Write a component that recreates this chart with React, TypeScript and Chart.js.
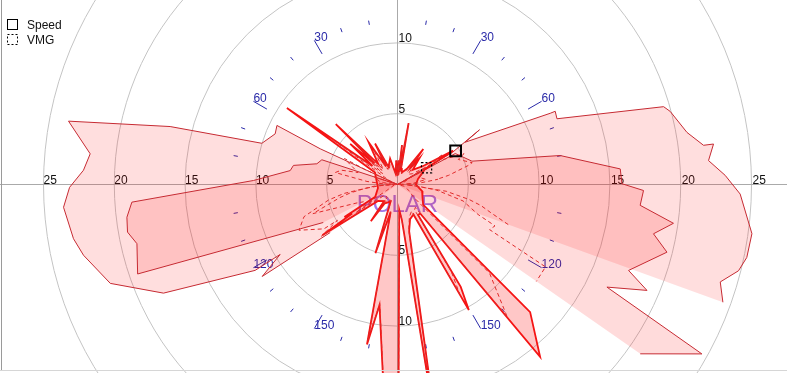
import React, { useEffect, useRef } from 'react';
import { Chart, registerables } from 'chart.js';

Chart.register(...registerables);

// ---- data: true wind angle (deg, clockwise from bow; negative = port) and boat speed (kn) ----
const RIGHT_OUTER_TWA = [0, 59.7, 56.3, 58.0, 65.0, 65.1, 67.6, 73.7, 75.0, 79.8, 82.7, 82.7, 85.6, 88.4, 91.6, 97.9, 101.8, 104.2, 106.8, 109.9];
const RIGHT_OUTER_SPEED = [0, 4.48, 6.96, 5.64, 11.9, 12.28, 12.18, 19.58, 19.94, 20.77, 21.79, 22.5, 22.03, 23.15, 24.21, 25.27, 25.2, 24.84, 23.81, 24.44];

const LEFT_OUTER_TWA = [0, -65.2, -63.9, -67.5, -73.1, -75.7, -79.1, -84.3, -87.4, -90.5, -93.9, -99.5, -102.7, -109.0, -114.9, -121.1, -120.8, -124.2, -125.5];
const LEFT_OUTER_SPEED = [0, 6.01, 9.48, 9.35, 10.01, 16.57, 23.66, 21.81, 22.2, 23.16, 23.64, 23.2, 22.73, 21.45, 18.22, 11.74, 9.65, 11.55, 5.84];

const RIGHT_INNER_TWA = [0, 61.8, 72.6, 79.9, 86.0, 89.8, 91.4, 94.9, 98.0, 100.9, 104.1, 110.4, 113.0, 116.1, 119.1, 124.9];
const RIGHT_INNER_SPEED = [0, 4.63, 5.51, 11.67, 15.77, 15.85, 17.38, 17.2, 19.68, 18.41, 19.62, 17.41, 19.14, 16.47, 24.6, 20.9];

const LEFT_INNER_TWA = [0, -71.9, -75.6, -79.6, -82.6, -88.4, -93.8, -96.9, -100.0, -102.8, -109.0, -114.5, -117.1];
const LEFT_INNER_SPEED = [0, 5.62, 5.88, 7.47, 7.64, 10.17, 18.8, 19.25, 19.36, 18.87, 19.41, 7.55, 5.89];

const SPIKE_TWA = [0, 3, 5, 6.5, 8.5, 10.3, 12.5, 20, 31, 36, 38, 40, 46, 54, 58.7, 61, 75, 90, 105, 118, 128, 133.9, 140.4, 142, 146, 148.3, 150.4, 152, 160, 166, 171, 173, 176, 180, 188.5, 190.8, 194, 197.8, 202, 214, 216, 219, 230, 236, 237.5, 238.5, 241, 260, 280, 298, 304.7, 306.5, 310.7, 312.5, 314.4, 317, 325.6, 327.5, 331.3, 333, 344, 350, 357, 360];
const SPIKE_SPEED = [0.6, 1.7, 0.7, 2.8, 0.9, 4.4, 1.2, 0.9, 1.3, 3.1, 1.4, 2.4, 1.5, 2.2, 4.6, 2.2, 1.5, 1.3, 1.8, 2.0, 2.3, 13.0, 15.8, 2.6, 2.6, 8.5, 10.2, 2.4, 2.6, 3.4, 18, 2.5, 1.8, 35, 8.6, 11.5, 2.0, 5.1, 1.3, 1.6, 3.2, 1.5, 1.8, 6.4, 3.8, 4.4, 1.8, 1.4, 1.5, 1.8, 9.5, 2.2, 4.4, 2.2, 6.1, 2.0, 3.6, 1.5, 3.3, 1.4, 1.9, 0.8, 1.7, 0.6];

const CURRENT_TWA = 60;
const CURRENT_SPEED = 4.74;
const CURRENT_VMG = 2.37;

const RING_VALUES = [5, 10, 15, 20, 25];
const VERTICAL_RING_LABELS = [5, 10];
const ANGLE_TICKS = [10, 20, 30, 40, 50, 60, 70, 80, 100, 110, 120, 130, 140, 150, 160, 170];
const ANGLE_LABELS = [30, 60, 120, 150];
const LEGEND_LABELS = ['Speed', 'VMG'];
const TITLE_TEXT = 'POLAR';

// ---- layout ----
const W = 787;
const H = 373;
const PX_PER_KN = 14.16;
const CX = 397.5;
const CY = 184.5;
const FONT = '"Liberation Sans", Arial, sans-serif';

const rad = (d: number) => (d * Math.PI) / 180;
const toXY = (twa: number[], spd: number[]) =>
  twa.map((a, i) => ({ x: spd[i] * Math.sin(rad(a)), y: spd[i] * Math.cos(rad(a)) }));
// VMG = speed * |cos(TWA)|
const vmgOf = (twa: number[], spd: number[]) => spd.map((s, i) => s * Math.abs(Math.cos(rad(twa[i]))));

const polarPlugin = {
  id: 'polarGrid',
  beforeDatasetsDraw(chart: any) {
    const { ctx } = chart;
    const xs = chart.scales.x;
    const ys = chart.scales.y;
    const cx = xs.getPixelForValue(0);
    const cy = ys.getPixelForValue(0);
    const k = xs.getPixelForValue(1) - cx;
    ctx.save();
    ctx.lineWidth = 1;
    ctx.strokeStyle = '#c4c4c4';
    RING_VALUES.forEach((r) => {
      ctx.beginPath();
      ctx.arc(cx, cy, r * k, 0, Math.PI * 2);
      ctx.stroke();
    });
    ctx.strokeStyle = '#aaaaaa';
    ctx.beginPath();
    ctx.moveTo(0, cy);
    ctx.lineTo(W, cy);
    ctx.moveTo(cx, 0);
    ctx.lineTo(cx, H);
    ctx.stroke();

    // angle ticks
    ctx.strokeStyle = '#2a2aa8';
    ctx.fillStyle = '#2a2aa8';
    ctx.font = '12px ' + FONT;
    ctx.textAlign = 'left';
    ctx.textBaseline = 'alphabetic';
    ANGLE_TICKS.forEach((a) => {
      const labeled = ANGLE_LABELS.includes(a);
      const r0 = labeled ? 10.65 : 11.45;
      const r1 = 11.75;
      [1, -1].forEach((side) => {
        const sx = side * Math.sin(rad(a));
        const sy = Math.cos(rad(a));
        const x0 = cx + sx * r0 * k;
        const y0 = cy - sy * r0 * k;
        const x1 = cx + sx * r1 * k;
        const y1 = cy - sy * r1 * k;
        ctx.beginPath();
        ctx.moveTo(x0, y0);
        ctx.lineTo(x1, y1);
        ctx.stroke();
        if (labeled) ctx.fillText(String(a), x1, y1 + 0.5);
      });
    });

    // ring labels
    ctx.fillStyle = '#111111';
    RING_VALUES.forEach((r) => {
      ctx.fillText(String(r), cx + r * k + 1, cy - 1);
      ctx.fillText(String(r), cx - r * k, cy - 1);
    });
    VERTICAL_RING_LABELS.forEach((r) => {
      ctx.fillText(String(r), cx + 1, cy - r * k - 1);
      ctx.fillText(String(r), cx + 1, cy + r * k - 1);
    });

    // title watermark
    ctx.font = '24px ' + FONT;
    ctx.textAlign = 'center';
    ctx.fillStyle = 'rgba(130, 70, 220, 0.75)';
    ctx.fillText(TITLE_TEXT, cx, cy + 27);
    ctx.restore();
  },
  afterDraw(chart: any) {
    const { ctx } = chart;
    ctx.save();
    ctx.lineWidth = 1;
    ctx.strokeStyle = '#9a9a9a';
    ctx.beginPath();
    ctx.moveTo(1.5, 0);
    ctx.lineTo(1.5, 371);
    ctx.stroke();
    ctx.strokeStyle = '#d6d6d6';
    ctx.beginPath();
    ctx.moveTo(0, 370.5);
    ctx.lineTo(W, 370.5);
    ctx.stroke();

    ctx.strokeStyle = '#000';
    ctx.strokeRect(7.5, 19.5, 10, 10);
    ctx.setLineDash([2, 2]);
    ctx.strokeRect(7.5, 34.5, 10, 10);
    ctx.setLineDash([]);
    ctx.fillStyle = '#111';
    ctx.font = '12px ' + FONT;
    ctx.textAlign = 'left';
    ctx.textBaseline = 'alphabetic';
    ctx.fillText(LEGEND_LABELS[0], 27, 29);
    ctx.fillText(LEGEND_LABELS[1], 27, 44);
    ctx.restore();
  },
};

const dashPlugin = {
  id: 'markerDash',
  beforeDatasetDraw(chart: any, args: any) {
    const ds = chart.data.datasets[args.index];
    if (ds && ds.markerDash) chart.ctx.setLineDash(ds.markerDash);
  },
  afterDatasetDraw(chart: any) {
    chart.ctx.setLineDash([]);
  },
};

export default function App() {
  const ref = useRef<HTMLCanvasElement | null>(null);

  useEffect(() => {
    document.body.style.margin = '0';
    if (!ref.current) return;

    const outlineStyle = {
      borderColor: '#c62a32',
      borderWidth: 1,
      pointRadius: 0,
      fill: 'shape',
      tension: 0,
    };
    const vmgStyle = {
      borderColor: '#e02a2a',
      borderWidth: 1,
      borderDash: [4, 3],
      pointRadius: 0,
      fill: false,
      tension: 0,
    };

    const datasets: any[] = [
      {
        label: 'Speed marker',
        data: toXY([CURRENT_TWA], [CURRENT_SPEED]),
        showLine: false,
        pointStyle: 'rect',
        pointRadius: 7.6,
        pointBorderColor: '#000',
        pointBackgroundColor: 'rgba(0,0,0,0)',
        pointBorderWidth: 2,
      },
      {
        label: 'VMG marker',
        data: toXY([CURRENT_TWA], [CURRENT_VMG]),
        showLine: false,
        pointStyle: 'rect',
        pointRadius: 7.2,
        pointBorderColor: '#000',
        pointBackgroundColor: 'rgba(0,0,0,0)',
        pointBorderWidth: 1.2,
        markerDash: [2, 2],
      },
      { label: 'VMG spikes', data: toXY(SPIKE_TWA, vmgOf(SPIKE_TWA, SPIKE_SPEED)), ...vmgStyle },
      { label: 'VMG right inner', data: toXY(RIGHT_INNER_TWA, vmgOf(RIGHT_INNER_TWA, RIGHT_INNER_SPEED)), ...vmgStyle },
      { label: 'VMG left inner', data: toXY(LEFT_INNER_TWA, vmgOf(LEFT_INNER_TWA, LEFT_INNER_SPEED)), ...vmgStyle },
      { label: 'VMG right outer', data: toXY(RIGHT_OUTER_TWA, vmgOf(RIGHT_OUTER_TWA, RIGHT_OUTER_SPEED)), ...vmgStyle },
      { label: 'VMG left outer', data: toXY(LEFT_OUTER_TWA, vmgOf(LEFT_OUTER_TWA, LEFT_OUTER_SPEED)), ...vmgStyle },
      {
        label: 'Speed spikes',
        data: toXY(SPIKE_TWA, SPIKE_SPEED),
        borderColor: '#f51414',
        borderWidth: 1.8,
        backgroundColor: 'rgba(255, 0, 0, 0.22)',
        pointRadius: 0,
        fill: 'shape',
        tension: 0,
      },
      { label: 'Right inner', data: toXY(RIGHT_INNER_TWA, RIGHT_INNER_SPEED), backgroundColor: 'rgba(255, 0, 0, 0.14)', ...outlineStyle },
      { label: 'Left inner', data: toXY(LEFT_INNER_TWA, LEFT_INNER_SPEED), backgroundColor: 'rgba(255, 0, 0, 0.13)', ...outlineStyle },
      { label: 'Right outer', data: toXY(RIGHT_OUTER_TWA, RIGHT_OUTER_SPEED), backgroundColor: 'rgba(255, 0, 0, 0.13)', ...outlineStyle },
      { label: 'Left outer', data: toXY(LEFT_OUTER_TWA, LEFT_OUTER_SPEED), backgroundColor: 'rgba(255, 0, 0, 0.13)', ...outlineStyle },
    ];

    const chart = new Chart(ref.current, {
      type: 'line',
      data: { datasets },
      options: {
        animation: false,
        responsive: false,
        events: [],
        layout: { padding: 0, autoPadding: false },
        plugins: { legend: { display: false }, tooltip: { enabled: false } },
        scales: {
          x: { type: 'linear', display: false, min: -CX / PX_PER_KN, max: (W - CX) / PX_PER_KN },
          y: { type: 'linear', display: false, min: -(H - CY) / PX_PER_KN, max: CY / PX_PER_KN },
        },
      } as any,
      plugins: [polarPlugin, dashPlugin],
    });
    return () => chart.destroy();
  }, []);

  return (
    <div style={{ width: W, height: H, background: '#fff' }}>
      <canvas ref={ref} width={W} height={H} style={{ display: 'block', width: W, height: H }} />
    </div>
  );
}
